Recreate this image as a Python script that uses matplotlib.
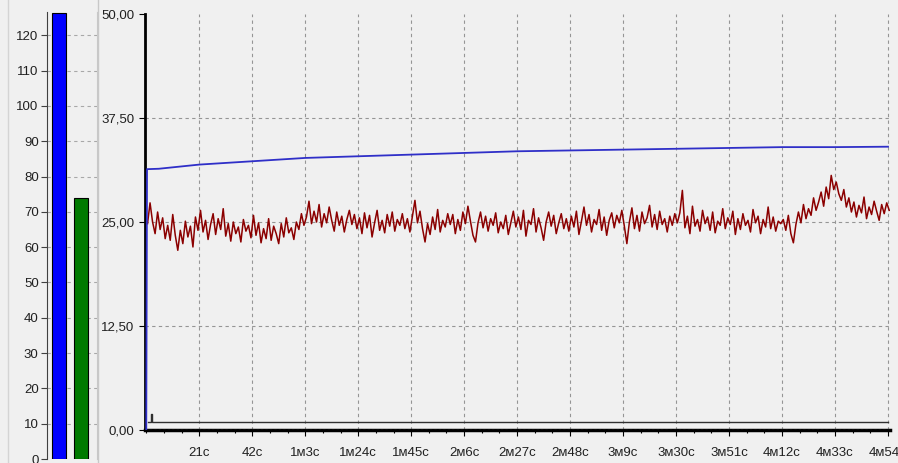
import matplotlib.pyplot as plt
import numpy as np
from matplotlib.ticker import FixedLocator, FuncFormatter, MultipleLocator

plt.rcParams['font.family'] = ['Liberation Sans', 'DejaVu Sans']
plt.rcParams['font.size'] = 9

# Левая панель: столбцы
bar_values = [126.3, 73.9]
bar_colors = ['#0000ff', '#007a00']
bar_ticks = [0, 10, 20, 30, 40, 50, 60, 70, 80, 90, 100, 110, 120]

# Правая панель: ось времени
x_ticks = [21, 42, 63, 84, 105, 126, 147, 168, 189, 210, 231, 252, 273, 294]
x_labels = ['21с', '42с', '1м3с', '1м24с', '1м45с', '2м6с', '2м27с', '2м48с',
            '3м9с', '3м30с', '3м51с', '4м12с', '4м33с', '4м54с']
y_ticks = [0, 12.5, 25, 37.5, 50]

# Синяя линия
blue_t = [0, 0.3, 5, 21, 42, 63, 84, 105, 126, 147, 168, 189, 210, 231, 252, 273, 294]
blue_v = [0, 31.35, 31.4, 31.9, 32.3, 32.7, 32.9, 33.1, 33.3, 33.5, 33.6, 33.7,
          33.8, 33.9, 34.0, 34.0, 34.05]

# Чёрная линия у нуля
black_t = [0.5, 1.8, 1.8, 2.4, 2.4, 294]
black_v = [1.0, 1.0, 1.9, 1.9, 1.0, 1.0]

# Красная линия, отсчёт раз в секунду
red_v = [
    24.8, 27.3, 25.0, 23.6, 26.2, 24.1, 25.5, 23.0, 24.6, 22.8, 25.9, 23.4, 21.6, 24.0, 22.4, 25.1, 23.2, 24.5, 22.0, 25.6, 24.0,
    26.4, 23.8, 25.2, 22.9, 24.7, 26.0, 23.5, 25.4, 24.1, 26.6, 23.3, 24.8, 22.7, 25.0, 23.6, 24.4, 22.6, 25.3, 23.9, 24.6, 23.1,
    25.8, 23.4, 24.9, 22.5, 24.2, 23.0, 25.4, 22.8, 24.5, 23.6, 22.4, 24.8, 23.2, 25.5, 23.7, 24.3, 22.9, 25.0, 24.1, 26.0, 24.6,
    25.6, 27.5, 24.8, 26.3, 25.0, 27.1, 24.4, 26.0, 24.9, 26.8, 25.2, 23.9, 26.2, 24.6, 25.7, 23.8, 25.3, 26.4, 24.7, 25.9, 24.2,
    25.5, 23.6, 26.1, 24.3, 25.8, 23.2, 24.9, 26.4, 24.0, 25.2, 23.7, 25.9, 24.5, 26.2, 23.9, 25.3, 24.6, 26.0, 24.2, 25.4, 23.8,
    25.7, 27.6, 24.9, 26.3, 24.2, 22.6, 24.8, 23.5, 25.6, 24.1, 26.5, 23.8, 25.2, 24.4, 26.0, 24.7, 25.9, 23.6, 25.3, 24.0, 26.2,
    24.8, 26.9, 25.1, 23.4, 22.6, 24.9, 26.2, 24.3, 25.7, 23.9, 25.4, 24.6, 26.1, 23.7, 25.0, 24.2, 25.8, 23.5, 24.9, 26.3, 24.4,
    25.6, 24.1, 26.4, 23.3, 25.2, 24.7, 26.6, 23.8, 25.5, 24.3, 22.8, 25.0, 26.2, 24.5, 25.8, 23.6, 24.9, 26.0, 24.2, 25.4, 23.9,
    25.7, 24.4, 26.3, 23.5, 25.1, 26.8, 24.6, 25.9, 23.8, 25.3, 24.7, 26.5, 24.0, 25.6, 23.4, 25.2, 26.1, 24.3, 25.8, 24.9, 26.4,
    24.5, 22.4, 25.0, 26.7, 24.2, 25.8, 23.9, 26.2, 24.8, 25.5, 27.0, 24.4, 25.9, 24.1, 26.3, 24.7, 25.4, 23.8, 25.7, 24.6, 26.0,
    24.9, 26.1, 28.8, 24.3, 25.7, 23.6, 26.9, 24.5, 25.3, 23.9, 26.4, 24.8, 25.6, 24.0, 26.2, 23.7, 25.1, 24.6, 26.6, 24.2, 25.5,
    24.7, 26.3, 23.5, 25.4, 24.1, 26.0, 24.6, 25.2, 23.8, 26.5, 24.9, 25.7, 23.6, 25.3, 24.4, 26.8, 24.2, 25.6, 23.9, 25.1, 24.8,
    25.3, 24.0, 25.8, 23.6, 22.5, 24.7, 26.2, 24.9, 27.1, 25.4, 26.6, 25.8, 27.9, 26.4, 27.4, 28.6, 26.9, 29.2, 27.8, 30.6, 28.9,
    29.8, 28.4, 27.6, 28.9, 26.8, 27.9, 26.2, 27.4, 25.6, 27.0, 26.1, 28.0, 25.4, 26.8, 25.9, 27.5, 26.3, 25.2, 27.1, 26.0, 27.3, 26.4,
]
red_step = 1.0
red_t = 0.5 + red_step * np.arange(len(red_v))

bg = '#f0f0f0'
grid_kw = dict(color='#959595', linestyle=(0, (3, 3)), linewidth=0.8)

fig = plt.figure(figsize=(8.98, 4.63), dpi=100, facecolor=bg)

# ---- левая панель
axb = fig.add_axes([47 / 898, 4 / 463, 50 / 898, 447 / 463], facecolor=bg)
axb.bar([0, 1], bar_values, width=0.62, color=bar_colors, edgecolor='black',
        linewidth=0.8, zorder=3)
axb.set_xlim(-0.53, 1.69)
axb.set_ylim(0, 126.6)
axb.set_yticks(bar_ticks)
axb.set_xticks([])
for y in bar_ticks[1:]:
    axb.axhline(y, zorder=1, color='#a8a8a8', linestyle=(0, (3, 3)), linewidth=0.8)
axb.spines['top'].set_visible(False)
axb.spines['bottom'].set_visible(False)
axb.spines['right'].set_color('#c8c8c8')
axb.spines['left'].set_color('#404040')
axb.tick_params(axis='y', length=4, width=0.8, color='#404040', pad=2,
                labelsize=9.5, labelcolor='#202020')

# ---- правая панель
ax = fig.add_axes([145 / 898, 33 / 463, 745 / 898, 416 / 463], facecolor=bg)
ax.plot(red_t, red_v, color='#8b0000', linewidth=1.1, zorder=4)
ax.plot(blue_t, blue_v, color='#2f2fc8', linewidth=1.3, zorder=5)
ax.plot(black_t, black_v, color='#303030', linewidth=1.0, zorder=4)

ax.set_xlim(-0.5, 294.8)
ax.set_ylim(0, 50)
ax.xaxis.set_major_locator(FixedLocator(x_ticks))
ax.set_xticklabels(x_labels)
ax.xaxis.set_minor_locator(MultipleLocator(7))
ax.set_yticks(y_ticks)
ax.yaxis.set_major_formatter(FuncFormatter(lambda v, p: f'{v:.2f}'.replace('.', ',')))

for x in x_ticks:
    ax.axvline(x, zorder=1, **grid_kw)
for y in y_ticks[1:4]:
    ax.axhline(y, zorder=1, **grid_kw)
ax.axhline(0, color='#9a9a9a', linestyle=(0, (2, 2)), linewidth=0.8, zorder=6)

ax.spines['top'].set_visible(False)
ax.spines['right'].set_visible(False)
ax.spines['left'].set_linewidth(2.0)
ax.spines['bottom'].set_linewidth(2.5)
ax.tick_params(axis='both', which='major', length=4, width=0.8, labelsize=9.5,
               labelcolor='#202020')
ax.tick_params(axis='x', which='minor', length=2.5, width=0.8)
ax.tick_params(axis='x', which='major', pad=8)

fig.add_artist(plt.Line2D([98 / 898, 98 / 898], [0, 1], color='#c8c8c8', linewidth=1))
fig.add_artist(plt.Line2D([8 / 898, 8 / 898], [0, 1], color='#d4d4d4', linewidth=1))

fig.savefig('out.png', dpi=100, facecolor=bg)
